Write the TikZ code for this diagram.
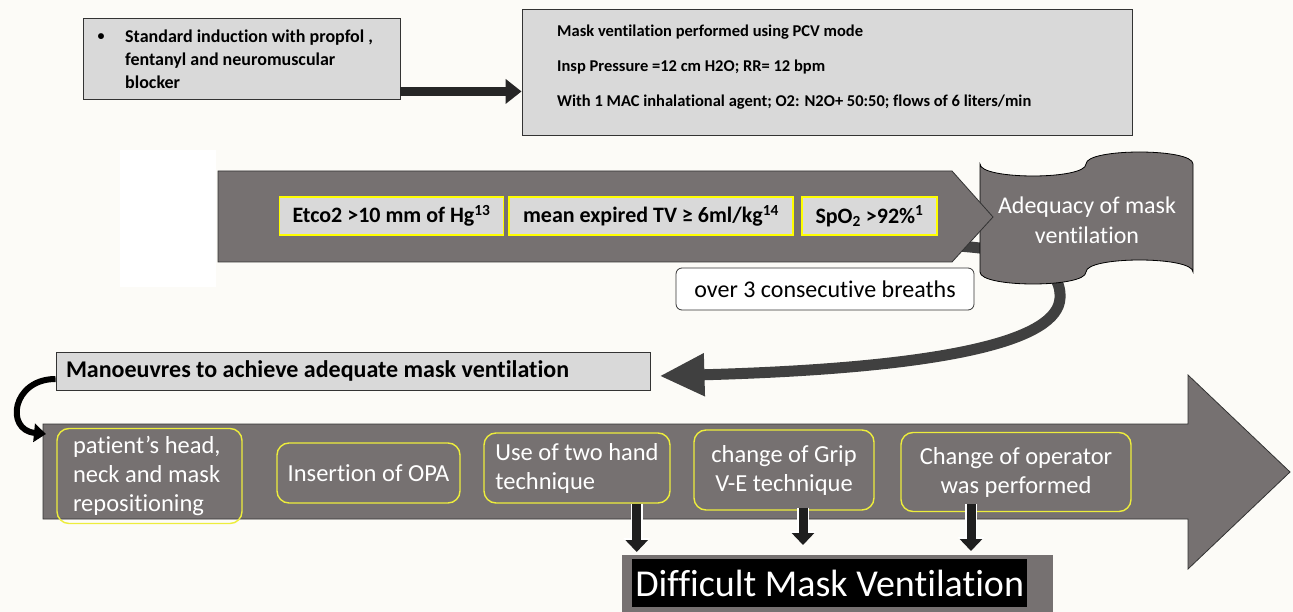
\documentclass[tikz,border=0pt]{standalone}
\usepackage{fontspec}
\setmainfont{Carlito}[Ligatures={NoCommon}]
\usetikzlibrary{arrows.meta,calc}
\definecolor{bgc}{HTML}{FCFBF7}
\definecolor{lgray}{HTML}{D9D9D9}
\definecolor{mgray}{HTML}{767171}
\definecolor{dgray}{HTML}{404040}
\definecolor{ybright}{HTML}{FFFF00}
\definecolor{ysoft}{HTML}{EDED3C}
\newcommand\myfs[2]{\fontsize{#1}{#2}\selectfont}
\begin{document}
\begin{tikzpicture}[x=1pt,y=-1pt,
  graybox/.style={draw=black!80, fill=lgray, line width=0.9pt},
  ybox/.style={draw=ybright, fill=lgray, line width=1.8pt, font=\bfseries\myfs{22}{22}, inner sep=0pt},
  rbox/.style={draw=ysoft, line width=1.4pt, rounded corners=12pt, text=white, font=\myfs{24.5}{29}},
  bigfill/.style={fill=mgray, draw=black!80, line width=0.8pt},
  downarr/.style={line width=9pt, draw=black!88, -{Triangle[length=12pt,width=22pt]},
     preaction={draw=white, line width=12pt, -{Triangle[length=14pt,width=26pt]}}}]
\fill[bgc] (0,0) rectangle (1293,612);
\useasboundingbox (0,0) rectangle (1293,612);
\fill[white] (120,150) rectangle (216,287);

% induction box
\node[graybox, minimum width=317pt, minimum height=81pt] (induct) at (241.5,58.5) {};
\node[font=\bfseries\myfs{14}{14}, inner sep=0pt] (bullet) at (101,37) {•};
\node[anchor=west, inner sep=0pt, font=\bfseries\myfs{18}{23}, align=left] (inducttxt) at (125,59)
  {Standard induction with propfol ,\\fentanyl and neuromuscular\\blocker};

% mask ventilation box
\node[graybox, minimum width=610pt, minimum height=126pt] (mvent) at (827,72) {};
\node[anchor=west, inner sep=0pt, font=\bfseries\myfs{16.5}{35}, align=left] (mventtxt) at (557,67)
  {Mask ventilation performed using PCV mode\\Insp Pressure =12 cm H2O; RR= 12 bpm\\With 1 MAC inhalational agent; O2: N2O+ 50:50; flows of 6 liters/min};

\coordinate (a1) at ($(induct.south east)+(0,-8)$);
\draw[line width=9pt, draw=black!85, -{Triangle[length=16pt,width=24pt]}] (a1) -- (a1 -| mvent.west);

% manoeuvres box
\node[graybox, minimum width=594pt, minimum height=38pt, text width=574pt, inner xsep=10pt,
  align=flush left, font=\bfseries\myfs{24}{24}] (mano) at (353,371) {Manoeuvres to achieve adequate mask ventilation};

% curved return arrow (drawn behind the shapes)
\coordinate (adeqback) at (958,246);
\coordinate (manotip) at ($(mano.east)+(9,5)$);
\draw[line width=11pt, draw=dgray, -{Triangle[length=45pt,width=40pt]}]
  (adeqback) .. controls (1015,250) and (1062,262) .. (1060,298)
  .. controls (1058,340) and (950,368) .. (manotip);

% adequacy shape
\filldraw[fill=mgray, draw=black, line width=0.8pt]
  (980,164) .. controls (980,180) and (1086,180) .. (1086,164)
  .. controls (1086,148) and (1193,148) .. (1193,164) -- (1193,272)
  .. controls (1193,256) and (1086,256) .. (1086,272)
  .. controls (1086,288) and (980,288) .. (980,272) -- cycle;
\node[text=white, font=\myfs{24}{30}, align=center] (adeq) at (1087,220) {Adequacy of mask\\ventilation};

% criteria pentagon
\filldraw[bigfill] (218,171) -- (952,171) -- (993,217) -- (952,262) -- (218,262) -- cycle;
\node[ybox, minimum width=224pt, minimum height=38pt] (etco) at (391.5,216) {Etco2 >10 mm of Hg\textsuperscript{13}};
\node[ybox, minimum width=284pt, minimum height=38pt] (tv) at (651,216) {mean expired TV ≥ 6ml/kg\textsuperscript{14}};
\node[ybox, minimum width=135pt, minimum height=38pt] (spo) at (869.5,216) {SpO\textsubscript{2} >92\%\textsuperscript{1}};

\node[draw=black!80, fill=white, rounded corners=6pt, line width=0.8pt, minimum width=298pt, minimum height=42pt,
  font=\myfs{24}{24}] (over) at (825,289) {over 3 consecutive breaths};

% big bottom arrow
\filldraw[bigfill] (43,424) -- (1188,424) -- (1188,375) -- (1290,472) -- (1188,569) -- (1188,519) -- (43,519) -- cycle;
\coordinate (bigin) at (46,434);
\draw[line width=6pt, draw=black, -{Triangle[length=12pt,width=18pt]}]
  ($(mano.west)+(0,8)$) .. controls (12,379) and (5,430) .. (bigin);

\node[rbox, minimum width=185pt, minimum height=95pt, text width=153pt, align=flush left] (pat) at (149.5,476)
  {patient’s head,\\neck and mask\\repositioning};
\node[rbox, minimum width=183pt, minimum height=60pt] (opa) at (368.5,473) {Insertion of OPA};
\node[rbox, minimum width=186pt, minimum height=70pt, align=left] (two) at (577,468)
  {Use of two hand\\technique};
\node[rbox, minimum width=180pt, minimum height=80pt, align=center] (grip) at (784,470)
  {change of Grip\\V-E technique};
\node[rbox, minimum width=230pt, minimum height=79pt, align=center] (oper) at (1016,472)
  {Change of operator\\was performed};

% difficult mask ventilation
\node[fill=mgray, minimum width=431pt, minimum height=60pt, anchor=north west, inner sep=0pt] (diffbg) at (622,555) {};
\node[fill=black, text=white, font=\myfs{38}{38}, minimum width=395pt, minimum height=48pt,
  anchor=north west, inner sep=0pt] (diff) at (632,559) {Difficult Mask Ventilation};

\coordinate (d1) at ($(two.south east)+(-34,0)$);
\coordinate (d2) at ($(grip.south)+(19,-3)$);
\coordinate (d3) at ($(oper.south)+(-45,-8)$);
\draw[downarr, shorten >=3pt] (d1) -- (d1 |- diffbg.north);
\draw[downarr, shorten >=10pt] (d2) -- (d2 |- diffbg.north);
\draw[downarr, shorten >=4pt] (d3) -- (d3 |- diffbg.north);
\end{tikzpicture}
\end{document}
